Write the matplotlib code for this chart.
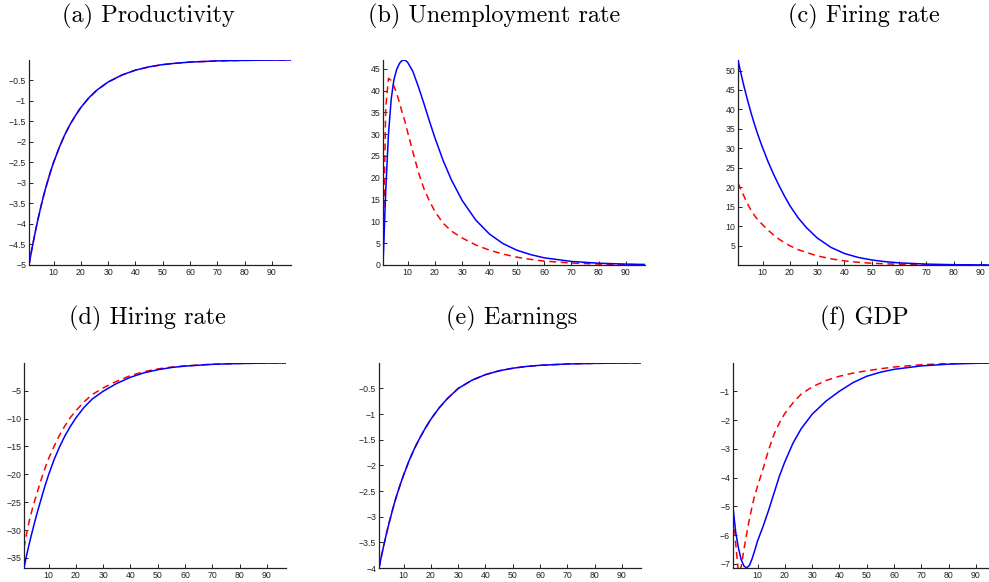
import numpy as np
import matplotlib
matplotlib.use("Agg")
import matplotlib.pyplot as plt

t = [1, 2, 3, 4, 5, 6, 7, 8, 9, 10, 12, 14, 16, 18, 20, 23, 26, 30,
     35, 40, 45, 50, 55, 60, 70, 80, 90, 97]

prod_solid = [-5.0, -4.63, -4.29, -3.97, -3.68, -3.40, -3.15, -2.92, -2.70, -2.50,
              -2.15, -1.84, -1.58, -1.36, -1.16, -0.92, -0.73, -0.54, -0.37, -0.25,
              -0.17, -0.115, -0.08, -0.054, -0.025, -0.012, -0.005, -0.003]
prod_dash = prod_solid

unemp_solid = [0.0, 17.0, 30.0, 38.0, 42.5, 44.8, 46.2, 46.9, 47.0, 46.5,
               44.3, 40.8, 37.0, 33.0, 29.2, 24.0, 19.6, 14.8, 10.3, 7.1,
               4.9, 3.4, 2.4, 1.65, 0.82, 0.41, 0.2, 0.12]
unemp_dash = [0.0, 36.0, 42.8, 42.3, 41.0, 39.4, 37.3, 35.0, 33.0, 30.5,
              25.8, 21.2, 17.5, 14.7, 12.3, 9.6, 7.8, 6.2, 4.6, 3.4,
              2.5, 1.8, 1.3, 0.9, 0.45, 0.22, 0.1, 0.07]

fire_solid = [52.7, 49.5, 46.5, 43.7, 41.1, 38.6, 36.3, 34.1, 32.1, 30.2,
              26.6, 23.4, 20.5, 17.8, 15.3, 12.2, 9.7, 7.0, 4.6, 3.0,
              2.0, 1.35, 0.9, 0.6, 0.28, 0.13, 0.07, 0.05]
fire_dash = [21.1, 19.5, 18.0, 16.5, 15.1, 13.9, 12.8, 11.9, 11.1, 10.4,
             9.0, 7.8, 6.7, 5.8, 5.0, 4.0, 3.3, 2.4, 1.65, 1.1,
             0.75, 0.5, 0.35, 0.25, 0.12, 0.06, 0.03, 0.02]

hire_solid = [-36.8, -34.4, -32.3, -30.3, -28.4, -26.6, -24.9, -23.2, -21.6, -20.1,
              -17.4, -15.1, -13.1, -11.4, -9.9, -8.0, -6.5, -5.1, -3.7, -2.6,
              -1.8, -1.25, -0.85, -0.6, -0.28, -0.13, -0.06, -0.04]
hire_dash = [-33.2, -30.5, -28.2, -26.3, -24.6, -23.0, -21.4, -19.9, -18.5, -17.2,
             -15.0, -13.0, -11.3, -9.8, -8.6, -7.0, -5.7, -4.5, -3.3, -2.3,
             -1.6, -1.1, -0.78, -0.55, -0.26, -0.12, -0.06, -0.04]

earn_solid = [-4.0, -3.74, -3.5, -3.27, -3.06, -2.86, -2.67, -2.5, -2.34, -2.19,
              -1.91, -1.67, -1.46, -1.27, -1.1, -0.88, -0.7, -0.5, -0.34, -0.23,
              -0.155, -0.105, -0.07, -0.048, -0.022, -0.01, -0.005, -0.003]
earn_dash = earn_solid

gdp_solid = [-5.05, -5.9, -6.45, -6.85, -7.07, -7.14, -7.05, -6.82, -6.52, -6.2,
             -5.7, -5.15, -4.55, -3.95, -3.45, -2.8, -2.3, -1.8, -1.35, -1.0,
             -0.7, -0.48, -0.34, -0.24, -0.12, -0.06, -0.03, -0.02]
gdp_dash = [-5.0, -6.3, -7.3, -7.1, -6.5, -5.95, -5.45, -5.0, -4.6, -4.3,
            -3.7, -3.05, -2.5, -2.1, -1.77, -1.4, -1.1, -0.85, -0.63, -0.48,
            -0.37, -0.29, -0.22, -0.16, -0.08, -0.04, -0.02, -0.015]

titles = ["(a) Productivity", "(b) Unemployment rate", "(c) Firing rate",
          "(d) Hiring rate", "(e) Earnings", "(f) GDP"]
series = [(prod_solid, prod_dash), (unemp_solid, unemp_dash), (fire_solid, fire_dash),
          (hire_solid, hire_dash), (earn_solid, earn_dash), (gdp_solid, gdp_dash)]
yticks = [np.arange(-5, -0.4, 0.5), np.arange(0, 46, 5), np.arange(5, 51, 5),
          np.arange(-35, -4, 5), np.arange(-4, -0.4, 0.5), np.arange(-7, -0.5, 1)]
xticks = np.arange(10, 91, 10)

W, H = 989., 582.
# axes boxes in pixels: left, top, right, bottom
boxes = [(29, 60, 291, 265), (383, 60, 645, 265), (738, 60, 1000, 265),
         (24, 363, 286, 568), (379, 363, 641, 568), (733, 363, 995, 568)]
title_pos = [(148, 16), (494, 16), (864, 16), (147, 318), (512, 318), (864, 318)]

fig = plt.figure(figsize=(W/100, H/100), dpi=100)

def fmt(v):
    s = ("%g" % v)
    return s.replace("-", "\u2212")

for i in range(6):
    l, tp, r, b = boxes[i]
    ax = fig.add_axes([l/W, 1-b/H, (r-l)/W, (b-tp)/H])
    solid, dash = series[i]
    ax.plot(t, solid, color="#0000ff", lw=1.1, zorder=3)
    ax.plot(t, dash, color="#ff0000", lw=1.1, ls=(0, (4.5, 3)), zorder=2)
    ax.set_xlim(1, 97)
    ax.set_ylim(min(solid), max(solid))
    ax.spines["top"].set_visible(False)
    ax.spines["right"].set_visible(False)
    for sp in ("left", "bottom"):
        ax.spines[sp].set_linewidth(0.9)
        ax.spines[sp].set_color("#222222")
    ax.set_xticks(xticks)
    ax.set_yticks(yticks[i])
    ax.set_yticklabels([fmt(v) for v in yticks[i]])
    ax.tick_params(direction="in", length=3, width=0.7, labelsize=6.3, pad=2,
                   colors="#222222")
    for lab in ax.get_xticklabels() + ax.get_yticklabels():
        lab.set_family("Liberation Sans")
    fig.text(title_pos[i][0]/W, 1-title_pos[i][1]/H, titles[i], family="cmr10",
             fontsize=17.5, ha="center", va="center")

fig.savefig("out.png", dpi=100)
